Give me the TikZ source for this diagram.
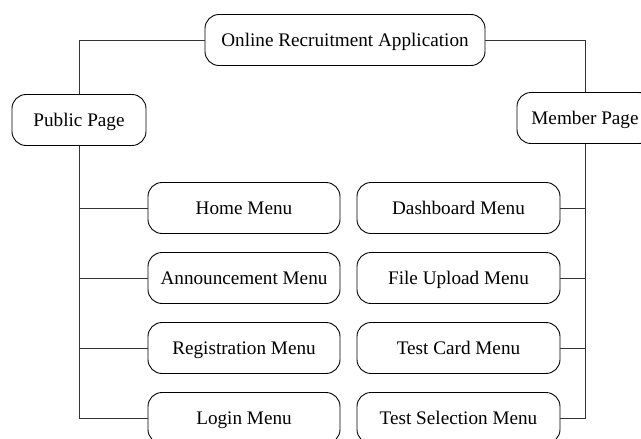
\documentclass[tikz,border=0pt]{standalone}
\usepackage{fontspec}
\setmainfont{Liberation Serif}
\usepackage{tikz}

\begin{document}
\begin{tikzpicture}[x=1pt,y=-1pt]
\tikzset{box/.style = {shape=rectangle,draw,rounded corners=14pt,line width=0.9pt,minimum height=51pt,inner sep=0pt,text height=15pt,text depth=3pt,font=\fontsize{19.2}{23}\selectfont}}
\tikzset{leftmenu/.style = {box,minimum width=192pt}}
\tikzset{rightmenu/.style = {box,minimum width=203pt}}
\tikzset{link/.style = {-,line width=0.9pt,draw=black!80}}
\useasboundingbox (0,0) rectangle (641,439);
\node[box,minimum width=280pt] (app) at (345,40) {Online Recruitment Application};
\node[box,minimum width=134pt] (public) at (79,120) {Public Page};
\node[box,minimum width=136pt] (member) at (585,118) {Member Page};
\node[leftmenu] (home) at (244,208) {Home Menu};
\node[leftmenu] (announce) at (244,278) {Announcement Menu};
\node[leftmenu] (register) at (244,348) {Registration Menu};
\node[leftmenu] (login) at (244,418) {Login Menu};
\node[rightmenu] (dashboard) at (458.5,208) {Dashboard Menu};
\node[rightmenu] (upload) at (458.5,278) {File Upload Menu};
\node[rightmenu] (testcard) at (458.5,348) {Test Card Menu};
\node[rightmenu] (testselect) at (458.5,418) {Test Selection Menu};
\draw[link] (app.west) -| (public.north);
\draw[link] (app.east) -| (member.north);
\draw[link] (public.south) |- (home.west);
\draw[link] (public.south) |- (announce.west);
\draw[link] (public.south) |- (register.west);
\draw[link] (public.south) |- (login.west);
\draw[link] (member.south) |- (dashboard.east);
\draw[link] (member.south) |- (upload.east);
\draw[link] (member.south) |- (testcard.east);
\draw[link] (member.south) |- (testselect.east);
\end{tikzpicture}
\end{document}
